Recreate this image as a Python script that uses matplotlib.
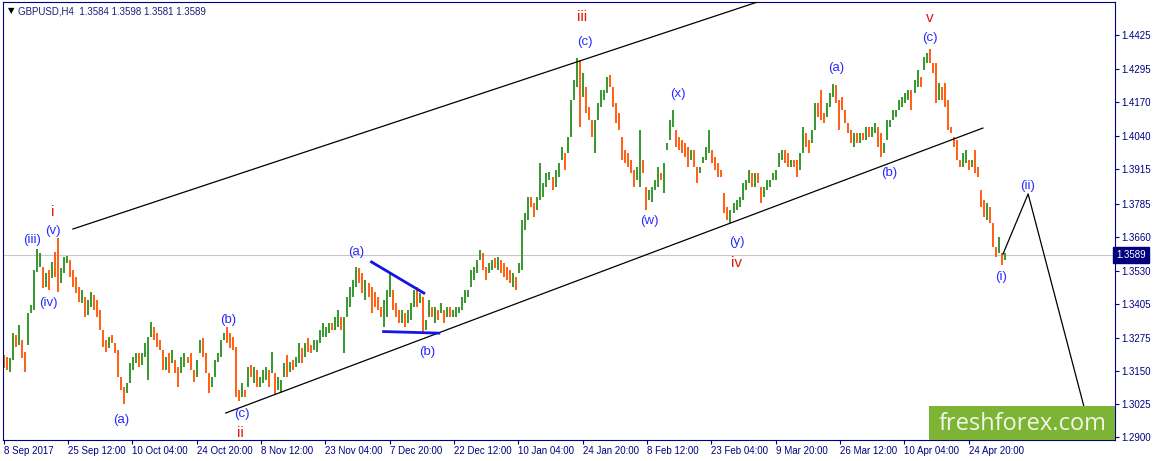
import matplotlib
matplotlib.use("Agg")
import matplotlib.pyplot as plt
from matplotlib.patches import Rectangle
import numpy as np

plt.rcParams['font.family'] = ['Liberation Sans', 'DejaVu Sans']

# GBPUSD H4, one entry per 3 bars, prices in points (1e-4)
highs = [13211,13204,13200,13295,13287,13325,13268,13222,13371,13401,
         13534,13613,13598,13545,13522,13534,13564,13602,13655,13541,
         13583,13587,13571,13534,13507,13469,13458,13431,13420,13450,
         13439,13420,13382,13306,13268,13279,13287,13256,13230,13127,
         13089,13105,13181,13203,13218,13218,13218,13256,13279,13336,
         13317,13294,13268,13230,13203,13218,13230,13192,13165,13203,
         13218,13203,13218,13154,13192,
         13268,13275,13218,13143,13127,13192,13218,13268,13294,13317,
         13294,13279,13241,13078,13105,13078,13165,13173,13165,13154,
         13127,13154,13165,13154,13222,13143,13127,13116,13181,13211,
         13184,13192,13203,13256,13237,13256,13275,13249,13268,13268,
         13306,13332,13317,13332,13332,13355,13382,13355,13355,13431,
         13469,13496,13545,13541,13522,13496,13484,13469,13450,13431,
         13393,13420,13458,13522,13458,13408,13382,
         13382,13371,13382,13408,13458,13469,13446,13431,13344,13420,
         13393,13393,13382,13408,13382,13393,13393,13382,13393,13393,
         13431,13458,13458,13534,13545,13571,13609,13598,13545,13560,
         13571,13579,13583,13571,13560,13545,13534,13522,13507,13560,
         13723,13750,13811,13811,13788,13811,13939,13864,13901,13906,
         13886,13913,13939,14000,13977,14038,14178,14254,14338,14330,
         14281,14228,14152,14103,14103,
         14167,14216,14216,14266,14273,14228,14167,14129,14038,13989,
         13977,13951,13913,13924,14065,13951,13848,13837,13848,13875,
         13924,13901,13939,14015,14103,14140,14065,14038,14027,14015,
         14000,13989,13989,13924,13924,13962,14000,14065,13989,13962,
         13939,13913,13826,13773,13761,13788,13799,13811,13864,13875,
         13913,13901,13901,13901,13848,13848,13875,13875,13901,13913,
         13977,13989,13989,13977,13951,13951,13951,
         13977,14076,14053,14027,14065,14167,14167,14216,14129,14167,
         14205,14239,14235,14178,14190,14140,14091,14065,14053,14053,
         14053,14053,14076,14076,14076,14091,14076,14053,14015,14103,
         14103,14140,14140,14178,14190,14205,14216,14216,14254,14292,
         14266,14341,14357,14372,14319,14319,14243,14228,14243,14178,
         14076,14038,14027,13951,13977,13989,13951,13951,13989,13924,
         13837,13799,13788,13773,13712,13621,13659,13598,13598]

lows = [13162,13154,13147,13192,13242,13249,13200,13147,13249,13371,
        13382,13526,13545,13465,13469,13458,13503,13507,13450,13484,
        13522,13560,13507,13469,13446,13412,13408,13355,13363,13393,
        13382,13355,13306,13241,13222,13237,13256,13218,13127,13078,
        13025,13067,13105,13154,13181,13165,13173,13203,13116,13279,
        13268,13241,13230,13154,13154,13143,13181,13143,13089,13143,
        13165,13181,13154,13108,13127,
        13218,13203,13143,13067,13089,13127,13184,13203,13268,13256,
        13237,13230,13051,13036,13051,13051,13089,13127,13105,13089,
        13089,13105,13116,13089,13143,13059,13078,13067,13127,13127,
        13146,13154,13165,13181,13181,13203,13222,13218,13230,13222,
        13256,13279,13279,13294,13306,13306,13317,13306,13218,13355,
        13393,13431,13469,13484,13446,13420,13431,13371,13393,13382,
        13355,13317,13355,13431,13382,13355,13332,
        13332,13317,13332,13344,13393,13393,13408,13298,13306,13355,
        13355,13332,13344,13371,13332,13355,13355,13355,13355,13371,
        13382,13408,13431,13469,13496,13522,13571,13534,13496,13522,
        13534,13541,13534,13522,13507,13496,13484,13469,13458,13522,
        13534,13685,13723,13773,13735,13761,13799,13811,13848,13875,
        13837,13848,13886,13951,13913,13977,14038,14178,14228,14076,
        14190,14129,14103,14038,13977,
        14103,14152,14178,14205,14228,14152,14091,14065,13951,13939,
        13924,13901,13848,13875,13848,13901,13761,13799,13792,13837,
        13848,13875,13826,13989,14027,14076,14000,13989,13977,13962,
        13924,13951,13924,13864,13901,13939,13951,13977,13939,13913,
        13886,13886,13750,13723,13712,13750,13761,13773,13799,13837,
        13864,13848,13848,13864,13788,13811,13837,13848,13875,13875,
        13924,13951,13939,13924,13924,13924,13886,
        13913,13977,14000,13977,14015,14065,14114,14103,14091,14114,
        14152,14190,14167,14065,14140,14091,14053,14015,14000,14015,
        14015,14027,14027,14038,14038,14053,14000,13962,13977,14027,
        14076,14103,14114,14140,14152,14167,14178,14140,14205,14228,
        14228,14292,14319,14319,14281,14167,14178,14178,14152,14065,
        14053,14000,13951,13924,13924,13939,13913,13924,13901,13886,
        13773,13735,13723,13712,13621,13583,13598,13553,13571]

closes = [13185,13170,13192,13276,13261,13306,13211,13173,13352,13390,
          13515,13564,13579,13488,13511,13477,13549,13534,13496,13526,
          13571,13575,13526,13481,13458,13428,13439,13374,13408,13435,
          13397,13374,13317,13256,13249,13268,13264,13230,13143,13094,
          13071,13097,13165,13185,13200,13185,13207,13245,13268,13306,
          13287,13253,13237,13173,13192,13162,13218,13154,13135,13192,
          13200,13188,13170,13127,13181,
          13249,13222,13154,13097,13116,13185,13207,13256,13283,13276,
          13264,13237,13067,13059,13086,13071,13154,13143,13150,13105,
          13116,13139,13147,13135,13162,13086,13097,13108,13165,13162,
          13177,13173,13192,13230,13203,13241,13237,13230,13256,13261,
          13294,13306,13310,13325,13313,13344,13363,13325,13344,13420,
          13450,13484,13526,13511,13465,13477,13446,13439,13420,13401,
          13374,13382,13439,13477,13401,13374,13352,
          13363,13336,13371,13393,13439,13428,13431,13313,13336,13401,
          13371,13382,13355,13393,13352,13382,13363,13374,13382,13390,
          13420,13446,13450,13522,13534,13560,13598,13553,13515,13553,
          13564,13560,13571,13541,13526,13522,13496,13503,13473,13553,
          13704,13731,13799,13788,13754,13799,13830,13852,13886,13890,
          13856,13901,13928,13989,13951,14027,14167,14235,14308,14216,
          14254,14152,14129,14053,14084,
          14152,14198,14205,14254,14243,14178,14114,14080,13970,13962,
          13951,13921,13875,13913,13932,13913,13788,13811,13837,13860,
          13906,13886,13921,14008,14084,14103,14027,14019,13996,13989,
          13951,13977,13939,13883,13921,13955,13989,13996,13962,13932,
          13906,13894,13769,13742,13750,13773,13788,13803,13848,13860,
          13894,13871,13890,13875,13807,13837,13864,13867,13894,13906,
          13962,13970,13951,13939,13943,13939,13932,
          13962,14046,14019,14008,14053,14140,14133,14122,14114,14159,
          14190,14216,14178,14159,14152,14103,14065,14027,14038,14027,
          14042,14034,14065,14046,14065,14072,14015,13989,14008,14091,
          14095,14129,14133,14167,14171,14190,14198,14159,14243,14273,
          14254,14330,14341,14330,14292,14198,14228,14198,14167,14076,
          14065,14015,13970,13932,13962,13970,13924,13939,13913,13906,
          13799,13761,13773,13723,13636,13598,13609,13571,13589]
first_open = 13200
bar_step = 3  # H4 bars per entry

tick_labels = ["8 Sep 2017", "25 Sep 12:00", "10 Oct 04:00", "24 Oct 20:00",
               "8 Nov 12:00", "23 Nov 04:00", "7 Dec 20:00", "22 Dec 12:00",
               "10 Jan 04:00", "24 Jan 20:00", "8 Feb 12:00", "23 Feb 04:00",
               "9 Mar 20:00", "26 Mar 12:00", "10 Apr 04:00", "24 Apr 20:00"]
bars_per_label = 64
price_ticks = [1.4425, 1.4295, 1.4170, 1.4040, 1.3915, 1.3785, 1.3660,
               1.3530, 1.3405, 1.3275, 1.3150, 1.3025, 1.2900]

# trend lines (bar index, price)
upper_channel = ([69, 760], [1.3689, 1.4563])
lower_channel = ([221, 974], [1.2991, 1.4072])
tri_top = ([366, 418], [1.3564, 1.3446])
tri_bottom = ([378, 433], [1.3300, 1.3294])
forecast = ([994, 1019, 1078], [1.3594, 1.3822, 1.2965])

# wave labels: text, bar index, price, degree (True = red)
wave_labels = [("i", 48.7, 1.3754, True), ("(v)", 48.7, 1.3681, False),
               ("(iii)", 28.8, 1.3647, False), ("(iv)", 44.8, 1.3408, False),
               ("(a)", 117.4, 1.2964, False), ("(b)", 223.8, 1.3344, False),
               ("(c)", 236.7, 1.2987, False), ("ii", 235.7, 1.2915, True),
               ("(a)", 351.1, 1.3602, False), ("(b)", 421.7, 1.3222, False),
               ("iii", 575.8, 1.4493, True), ("(c)", 577.8, 1.4398, False),
               ("(x)", 670.3, 1.4201, False), ("(w)", 642.5, 1.3719, False),
               ("(y)", 729.0, 1.3640, False), ("iv", 729.0, 1.3560, True),
               ("(a)", 828.4, 1.4300, False), ("(b)", 881.0, 1.3902, False),
               ("v", 921.0, 1.4490, True), ("(c)", 921.0, 1.4414, False),
               ("(ii)", 1018.4, 1.3852, False), ("(i)", 992.5, 1.3507, False)]

header = "GBPUSD,H4  1.3584 1.3598 1.3581 1.3589"

navy = "#000080"
hi = np.array(highs) / 1e4
lo = np.array(lows) / 1e4
cl = np.array(closes) / 1e4
op = np.r_[first_open, closes[:-1]] / 1e4
x = np.arange(len(hi)) * bar_step
cols = np.where(cl > op, "#27901f", np.where(cl < op, "#ff5200", "black"))

fig = plt.figure(figsize=(11.55, 4.61), dpi=100)
ax = fig.add_axes([2.5 / 1155, 1 - 440 / 461, 1112.5 / 1155, 438 / 461])

ax.axhline(cl[-1], color="#c8c8c8", lw=0.8, zorder=1)
ax.vlines(x, lo, hi, colors=cols, lw=1.3, zorder=2)

ax.plot(*upper_channel, color="black", lw=0.9, zorder=3)
ax.plot(*lower_channel, color="black", lw=0.9, zorder=3)
ax.plot(*tri_top, color="#1414e6", lw=2.0, zorder=3)
ax.plot(*tri_bottom, color="#1414e6", lw=2.0, zorder=3)
ax.plot(*forecast, color="black", lw=0.9, zorder=3)

for txt, bx, py, red in wave_labels:
    ax.text(bx, py, txt, ha="center", va="center", zorder=4,
            color="#dd1a10" if red else "#2a2aff",
            fontsize=11 if red else 9.5)

ax.set_xlim(-1, 1105.4)
ax.set_ylim(1.28886, 1.45502)

ax.set_xticks(np.arange(len(tick_labels)) * bars_per_label)
ax.set_xticklabels(tick_labels)
for lbl in ax.get_xticklabels():
    lbl.set_ha("left")
ax.yaxis.tick_right()
ax.set_yticks(price_ticks)
ax.set_yticklabels(["%.4f" % p for p in price_ticks])
ax.tick_params(axis="both", direction="out", length=3, width=0.8,
               color=navy, labelcolor=navy, labelsize=7, pad=1.5)
for s in ax.spines.values():
    s.set_color(navy)
    s.set_linewidth(0.8)

# last price box on the price scale
ax.text(1.0012, cl[-1], "%.4f" % cl[-1], transform=ax.get_yaxis_transform(),
        ha="left", va="center", color="white", fontsize=7, clip_on=False,
        bbox=dict(boxstyle="square,pad=0.3", fc=navy, ec=navy))

fig.text(11 / 1155, 1 - 11 / 461, "\u25bc", fontsize=6, ha="center",
         va="center", color="black", family="DejaVu Sans")
fig.text(18 / 1155, 1 - 11 / 461, header, fontsize=7, ha="left",
         va="center", color="#1c1c7c")

# logo
fig.patches.append(Rectangle((929 / 1155, 1 - 440 / 461), 186 / 1155, 34 / 461,
                             transform=fig.transFigure, fc="#7db436", ec="none",
                             zorder=5))
fig.text(1023 / 1155, 1 - 424 / 461, "freshforex.com", fontsize=17,
         family="Open Sans", color="#f2f6e6", ha="center", va="center",
         zorder=6)

fig.savefig("out.png", dpi=100)
